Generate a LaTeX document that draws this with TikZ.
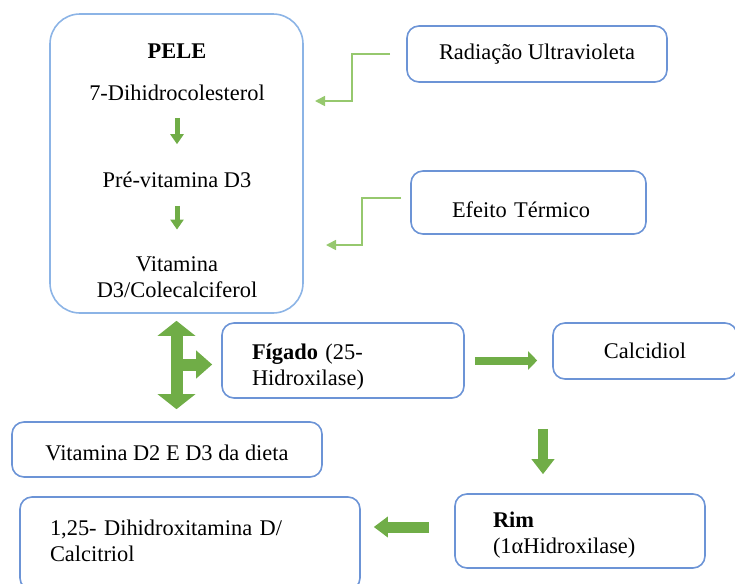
\documentclass[tikz,border=0pt]{standalone}
\usepackage{fontspec}
\setmainfont{Liberation Serif}
\usetikzlibrary{arrows.meta, positioning}
\definecolor{boxblue}{RGB}{108,148,214}
\definecolor{skinblue}{RGB}{140,180,230}
\definecolor{fatgreen}{RGB}{112,173,71}
\definecolor{thingreen}{RGB}{150,200,110}
\tikzset{
x=0.5pt, y=-0.5pt, % one unit is one pixel of the page
txt/.style={inner sep=0pt, font=\fontsize{11.2}{13}\selectfont}, % plain text inside the skin box
box/.style={draw=boxblue, line width=0.8pt, rounded corners=6pt, inner sep=0pt, font=\fontsize{11.2}{13}\selectfont}, % the rounded boxes
elbow/.style={draw=thingreen, line width=0.8pt, -{Triangle[width=5pt,length=5pt]}}, % thin bent arrows
small/.style={draw=fatgreen, line width=2.5pt, -{Triangle[width=6.5pt,length=5pt]}}, % arrows inside the skin box
fat/.style={draw=fatgreen, line width=4pt, -{Triangle[width=9pt,length=4.5pt]}}, % block arrows between boxes
}
\begin{document}
\begin{tikzpicture}
\useasboundingbox (0,0) rectangle (735,584);
% skin
\node[box, draw=skinblue, rounded corners=15pt, minimum width=126.5pt, minimum height=149.5pt] (pele) at (176.5,163.5) {};
\node[txt] (peletit) at (177,51.5) {\textbf{PELE}};
\node[txt] (dhc) at (177,92.5) {7-Dihidrocolesterol};
\node[txt] (pre) at (177,179.5) {Pré-vitamina D3};
\node[txt, align=center] (colecal) at (177,277) {Vitamina\\D3/Colecalciferol};
\draw[small, shorten <=8.5pt, shorten >=13.5pt] (dhc) -- (pre);
\draw[small, shorten <=9pt, shorten >=13.25pt] (pre) -- (colecal);
% sources
\node[box, minimum width=130pt, minimum height=28pt] (uv) at (537,54) {Radiação Ultravioleta};
\node[box, text width=76.5pt, inner xsep=20.5pt, align=left, minimum height=31.5pt, text height=15.6pt] (ter) at (528.5,202.5) {Efeito Térmico};
\coordinate (uvin) at (315,101);
\coordinate (terin) at (326,245);
\draw[elbow] ([xshift=-8pt]uv.west) -| ([xshift=18.5pt]uvin) -- (uvin);
\draw[elbow] ([xshift=-4.5pt,yshift=2.25pt]ter.west) -| ([xshift=18pt]terin) -- (terin);
% liver and kidney
\node[box, text width=91pt, inner xsep=15pt, minimum height=37.5pt, align=left, text height=14pt] (fig) at (343,360.5) {\textbf{Fígado} (25-\\Hidroxilase)};
\node[box, minimum width=92pt, minimum height=28pt] (cal) at (645,351) {Calcidiol};
\node[box, minimum width=155pt, minimum height=27.5pt, text height=11.5pt] (vit) at (167,449.5) {Vitamina D2 E D3 da dieta};
\node[box, text width=87pt, inner xsep=19pt, minimum height=37pt, align=left, text height=11.5pt] (rim) at (580,531) {\textbf{Rim}\\(1αHidroxilase)};
\node[box, text width=140pt, inner xsep=15pt, minimum height=46.5pt, align=left, text depth=16pt] (ctr) at (190,543.5) {1,25- Dihidroxitamina D/\\Calcitriol};
\draw[fat, line width=6pt, {Triangle[width=18.5pt,length=7.5pt]}-{Triangle[width=18.5pt,length=7.5pt]}, shorten <=3.5pt, shorten >=6pt] (pele.south) -- (pele.south |- vit.north);
\draw[fat, line width=6pt, -{Triangle[width=13.5pt,length=8pt]}, shorten >=4.5pt] ([yshift=-2pt]pele.south |- fig.west) -- ([yshift=-2pt]fig.west);
\draw[fat, shorten <=5pt, shorten >=7.5pt] (fig.east) -- (fig.east -| cal.west);
\draw[fat, line width=5pt, -{Triangle[width=11pt,length=7.5pt]}, shorten <=24.5pt, shorten >=9.5pt] ([xshift=-18.5pt]rim.north |- cal.south) -- ([xshift=-18.5pt]rim.north);
\draw[fat, line width=5.5pt, -{Triangle[width=10pt,length=7pt]}, shorten <=12.5pt, shorten >=6.5pt] ([yshift=2pt]rim.west) -- ([yshift=2pt]rim.west -| ctr.east);
\end{tikzpicture}
\end{document}
